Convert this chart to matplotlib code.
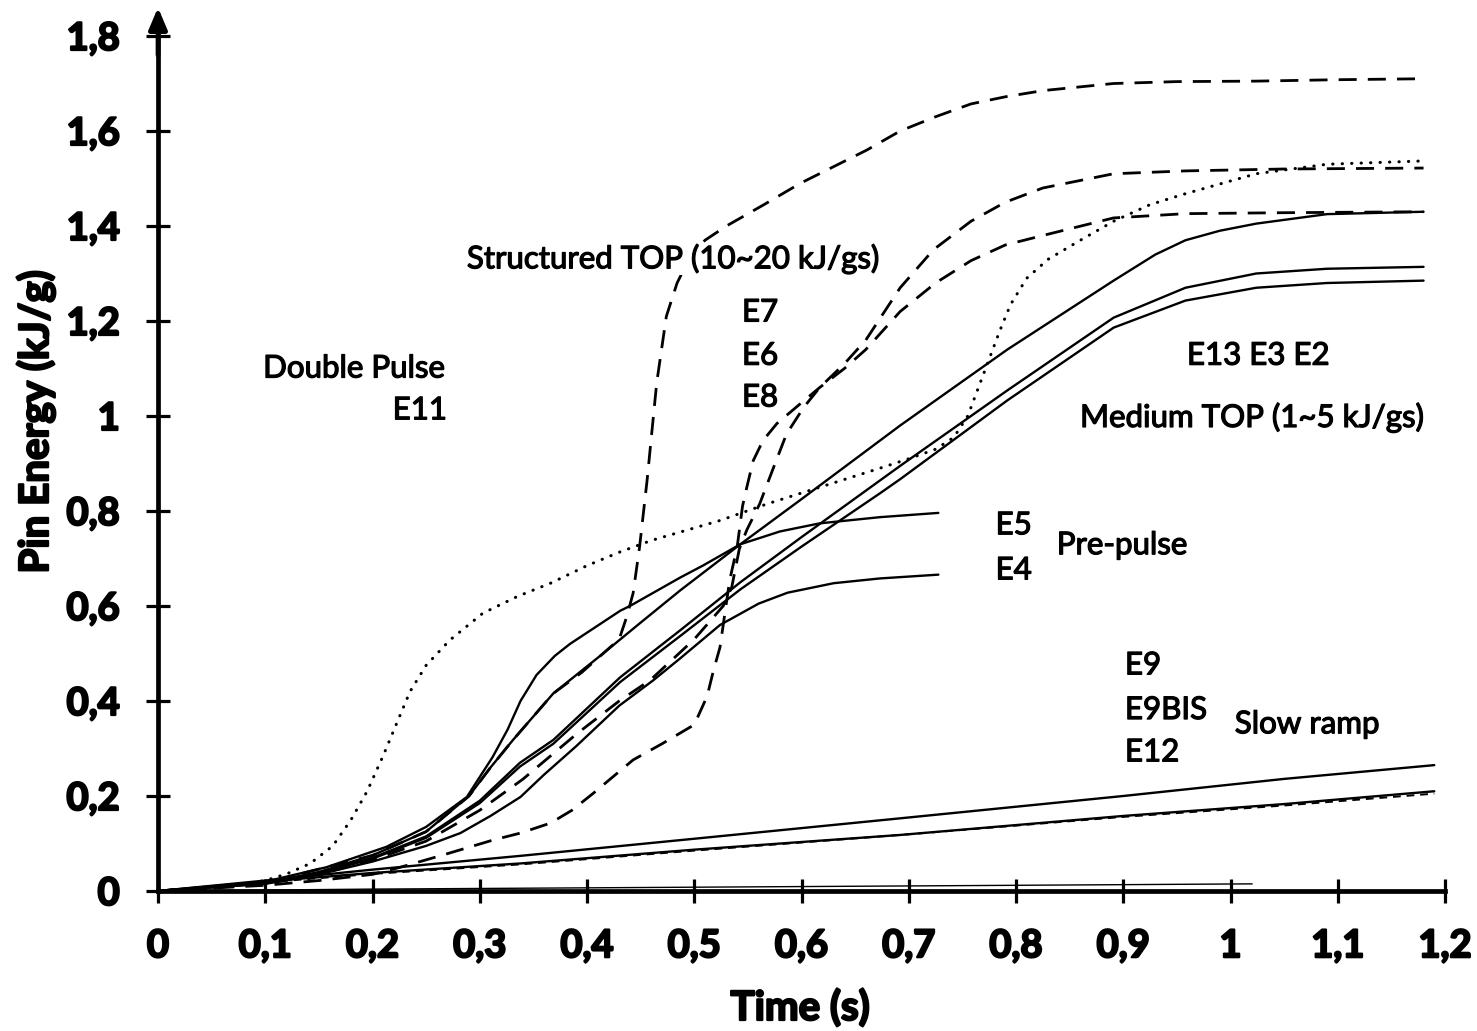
import matplotlib
matplotlib.use("Agg")
import matplotlib.pyplot as plt
import matplotlib.patheffects as pe

plt.rcParams['font.family'] = ['Lato', 'DejaVu Sans']

# ---- data (time in s, energy in kJ/g) ----
e11_t = [0, 0.05, 0.1, 0.12, 0.142, 0.163, 0.18, 0.195, 0.21, 0.222, 0.235, 0.25, 0.272, 0.303,
         0.335, 0.366, 0.4, 0.431, 0.46, 0.524, 0.568, 0.617, 0.673, 0.70, 0.725, 0.742, 0.755,
         0.765, 0.775, 0.785, 0.795, 0.81, 0.83, 0.86, 0.891, 0.925, 0.958, 1.024, 1.09, 1.18]
e11_e = [0, 0.005, 0.022, 0.036, 0.058, 0.095, 0.15, 0.21, 0.285, 0.35, 0.42, 0.475, 0.528, 0.585,
         0.62, 0.648, 0.685, 0.714, 0.738, 0.78, 0.815, 0.85, 0.89, 0.91, 0.93, 0.955, 1.0,
         1.06, 1.12, 1.18, 1.235, 1.29, 1.33, 1.37, 1.41, 1.445, 1.468, 1.51, 1.53, 1.537]

e7_t = [0, 0.1, 0.2, 0.25, 0.29, 0.31, 0.331, 0.3686, 0.395, 0.415, 0.43, 0.437, 0.443, 0.449,
        0.456, 0.465, 0.474, 0.484, 0.495, 0.51, 0.53, 0.565, 0.599, 0.63, 0.661, 0.692, 0.725,
        0.758, 0.79, 0.825, 0.891, 0.95, 1.024, 1.1, 1.18]
e7_e = [0, 0.017, 0.075, 0.125, 0.2, 0.26, 0.318, 0.416, 0.46, 0.50, 0.53, 0.577, 0.627, 0.724,
        0.864, 1.07, 1.21, 1.28, 1.33, 1.37, 1.40, 1.445, 1.49, 1.525, 1.56, 1.60, 1.63,
        1.657, 1.672, 1.685, 1.70, 1.704, 1.705, 1.708, 1.71]

e6_t = [0, 0.1, 0.15, 0.2, 0.25, 0.3, 0.34, 0.39, 0.43, 0.459, 0.5, 0.527, 0.535, 0.542, 0.549,
        0.561, 0.574, 0.586, 0.602, 0.617, 0.64, 0.66, 0.692, 0.723, 0.758, 0.79, 0.825, 0.891,
        0.958, 1.05, 1.18]
e6_e = [0, 0.015, 0.035, 0.065, 0.105, 0.17, 0.235, 0.33, 0.40, 0.444, 0.53, 0.60, 0.64, 0.72, 0.76,
        0.815, 0.892, 0.962, 1.018, 1.06, 1.11, 1.16, 1.27, 1.35, 1.41, 1.45, 1.48, 1.51,
        1.516, 1.52, 1.522]

e8_t = [0, 0.1, 0.15, 0.2, 0.226, 0.266, 0.312, 0.338, 0.366, 0.386, 0.406, 0.443, 0.47, 0.5, 0.512,
        0.518, 0.524, 0.533, 0.54, 0.545, 0.549, 0.555, 0.564, 0.577, 0.599, 0.617, 0.64, 0.66,
        0.692, 0.725, 0.758, 0.79, 0.825, 0.891, 0.958, 1.05, 1.18]
e8_e = [0, 0.012, 0.022, 0.035, 0.05, 0.076, 0.107, 0.122, 0.143, 0.17, 0.206, 0.276, 0.31, 0.35, 0.41,
        0.465, 0.513, 0.654, 0.724, 0.81, 0.85, 0.906, 0.948, 0.984, 1.026, 1.06, 1.10, 1.14,
        1.22, 1.28, 1.327, 1.36, 1.38, 1.417, 1.426, 1.428, 1.43]

e13_t = [0, 0.1, 0.15, 0.2, 0.25, 0.29, 0.31, 0.331, 0.3686, 0.415, 0.45, 0.487, 0.543, 0.6,
         0.692, 0.792, 0.891, 0.93, 0.958, 0.99, 1.024, 1.09, 1.18]
e13_e = [0, 0.017, 0.04, 0.075, 0.125, 0.2, 0.26, 0.318, 0.416, 0.50, 0.565, 0.633, 0.73, 0.825,
         0.98, 1.14, 1.285, 1.34, 1.37, 1.39, 1.405, 1.425, 1.43]

e23_t = [0, 0.1, 0.15, 0.2, 0.25, 0.3, 0.3375, 0.3686, 0.431, 0.487, 0.543, 0.6, 0.673, 0.692,
         0.792, 0.891, 0.958, 1.024, 1.09, 1.18]
e2_e = [0, 0.016, 0.038, 0.07, 0.115, 0.19, 0.27, 0.318, 0.45, 0.549, 0.65, 0.745, 0.864, 0.895,
        1.054, 1.207, 1.27, 1.30, 1.31, 1.314]
e3_e = [0, 0.016, 0.037, 0.068, 0.112, 0.185, 0.262, 0.31, 0.44, 0.537, 0.635, 0.725, 0.837, 0.867,
        1.033, 1.186, 1.243, 1.27, 1.28, 1.285]

e5_t = [0, 0.095, 0.157, 0.213, 0.25, 0.288, 0.312, 0.326, 0.338, 0.353, 0.37, 0.384, 0.431,
        0.44, 0.487, 0.508, 0.543, 0.58, 0.617, 0.673, 0.7276]
e5_e = [0, 0.017, 0.05, 0.093, 0.135, 0.198, 0.282, 0.34, 0.40, 0.455, 0.495, 0.52, 0.59,
        0.60, 0.66, 0.685, 0.73, 0.757, 0.774, 0.787, 0.796]

e4_t = [0, 0.1, 0.15, 0.2, 0.25, 0.282, 0.31, 0.338, 0.36, 0.39, 0.43, 0.462, 0.487, 0.524,
        0.56, 0.587, 0.63, 0.673, 0.7276]
e4_e = [0, 0.015, 0.035, 0.062, 0.095, 0.122, 0.158, 0.198, 0.245, 0.305, 0.39, 0.444, 0.49, 0.56,
        0.605, 0.628, 0.648, 0.658, 0.666]

ramp_t = [0, 0.1, 0.2, 0.338, 0.5, 0.692, 0.9, 1.05, 1.19]
e9_e = [0, 0.022, 0.045, 0.074, 0.11, 0.153, 0.2, 0.236, 0.265]
e9bis_e = [0, 0.02, 0.038, 0.058, 0.087, 0.118, 0.158, 0.183, 0.21]
e12_e = [0, 0.018, 0.036, 0.056, 0.085, 0.118, 0.156, 0.18, 0.205]

flat_t = [0, 0.2, 0.5, 0.8, 1.02]
flat_e = [0, 0.004, 0.008, 0.012, 0.015]

x_ticks = [0, 0.1, 0.2, 0.3, 0.4, 0.5, 0.6, 0.7, 0.8, 0.9, 1.0, 1.1, 1.2]
x_labels = ['0', '0,1', '0,2', '0,3', '0,4', '0,5', '0,6', '0,7', '0,8', '0,9', '1', '1,1', '1,2']
y_ticks = [0, 0.2, 0.4, 0.6, 0.8, 1.0, 1.2, 1.4, 1.6, 1.8]
y_labels = ['0', '0,2', '0,4', '0,6', '0,8', '1', '1,2', '1,4', '1,6', '1,8']

# ---- figure ----
W, H = 1477, 1031
fig = plt.figure(figsize=(W / 100, H / 100), dpi=100)
ax = fig.add_axes([158 / W, 1 - 891 / H, (1445 - 158) / W, (891 - 36) / H])
ax.set_xlim(0, 1.2)
ax.set_ylim(0, 1.8)

solid = dict(color='black', lw=1.7, solid_capstyle='round')
dashed = dict(color='black', lw=2.0, linestyle=(0, (6.5, 4)))
dotted = dict(color='black', lw=2.2, linestyle=(0, (0.1, 3.0)), dash_capstyle='round')

ax.plot(ramp_t, e9_e, **solid)
ax.plot(ramp_t, e9bis_e, **solid)
ax.plot(ramp_t, e12_e, color='black', lw=1.4, linestyle=(0, (4, 3)))
ax.plot(flat_t, flat_e, color='black', lw=1.0)
ax.plot(e4_t, e4_e, **solid)
ax.plot(e5_t, e5_e, **solid)
ax.plot(e23_t, e2_e, **solid)
ax.plot(e23_t, e3_e, **solid)
ax.plot(e13_t, e13_e, **solid)
ax.plot(e8_t, e8_e, **dashed)
ax.plot(e6_t, e6_e, **dashed)
ax.plot(e7_t, e7_e, **dashed)
ax.plot(e11_t, e11_e, **dotted)

# ---- axes styling ----
heavy = [pe.withStroke(linewidth=1.6, foreground='black')]
for s in ['top', 'right']:
    ax.spines[s].set_visible(False)
for s in ['left', 'bottom']:
    ax.spines[s].set_linewidth(3.4)
ax.set_xticks(x_ticks, x_labels, fontsize=27.5, fontweight='bold')
ax.set_yticks(y_ticks, y_labels, fontsize=27.5, fontweight='bold')
ax.tick_params(direction='inout', length=17, width=2.3, pad=19)
for lab in ax.get_xticklabels() + ax.get_yticklabels():
    lab.set_path_effects(heavy)

# arrow head on the y axis
ax.annotate('', xy=(0, 1.86), xytext=(0, 1.76), annotation_clip=False,
            arrowprops=dict(arrowstyle='-|>,head_length=1.3,head_width=0.55',
                            color='black', lw=3.4, shrinkA=0, shrinkB=0))

fig.text(800 / W, 1 - 1008 / H, 'Time (s)', ha='center', va='center',
         fontsize=29, fontweight='bold', path_effects=heavy)
fig.text(36 / W, 1 - 422 / H, 'Pin Energy (kJ/g)', ha='center', va='center',
         rotation=90, fontsize=29, fontweight='bold', path_effects=heavy)

# ---- annotations ----
thick = [pe.withStroke(linewidth=0.9, foreground='black')]
ann = dict(fontsize=22.5, va='center', color='black', path_effects=thick)
ax.text(0.288, 1.331, 'Structured TOP (10~20 kJ/gs)', ha='left',
        bbox=dict(facecolor='white', edgecolor='none', pad=1), **ann)
ax.text(0.5445, 1.218, 'E7', ha='left', **ann)
ax.text(0.5445, 1.127, 'E6', ha='left', **ann)
ax.text(0.5445, 1.039, 'E8', ha='left', **ann)
ax.text(0.098, 1.10, 'Double Pulse', ha='left', **ann)
ax.text(0.2695, 1.012, 'E11', ha='right', **ann)
ax.text(0.9594, 1.127, 'E13 E3 E2', ha='left', **ann)
ax.text(0.8597, 0.997, 'Medium TOP (1~5 kJ/gs)', ha='left', **ann)
ax.text(0.781, 0.77, 'E5', ha='left', **ann)
ax.text(0.781, 0.675, 'E4', ha='left', **ann)
ax.text(0.838, 0.728, 'Pre-pulse', ha='left', **ann)
ax.text(0.9016, 0.475, 'E9', ha='left', **ann)
ax.text(0.9016, 0.381, 'E9BIS', ha='left', **ann)
ax.text(0.9016, 0.292, 'E12', ha='left', **ann)
ax.text(1.004, 0.351, 'Slow ramp', ha='left', **ann)

fig.savefig('out.png', dpi=100)
